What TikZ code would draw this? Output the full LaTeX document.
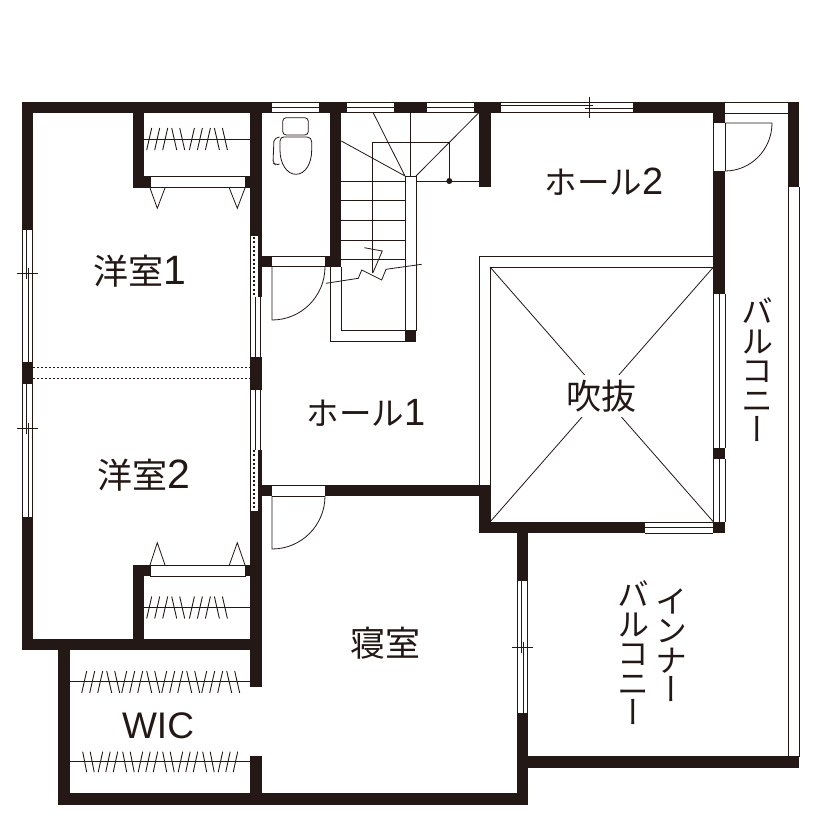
\documentclass[tikz,border=0pt]{standalone}
\usepackage{fontspec}
\setmainfont{Liberation Sans}
\newfontfamily\jp{Noto Sans CJK JP}
\newfontfamily\vjp[RawFeature=+vert]{Noto Sans CJK JP}
\definecolor{ink}{HTML}{231815}
\newcommand{\wl}[4]{\fill[ink] (#1,#2) rectangle (#3,#4);}
\newcommand{\vwin}[4]{\fill[white] (#1,#2) rectangle (#3,#4);\draw[thin line] (#1,#2) -- (#1,#4) (#3,#2) -- (#3,#4);
  \pgfmathsetmacro{\xm}{(#1+#3)/2}\draw[thin line] (\xm,#2) -- (\xm,#4);}
\newcommand{\hwin}[4]{\fill[white] (#1,#2) rectangle (#3,#4);\draw[thin line] (#1,#2) -- (#3,#2) (#1,#4) -- (#3,#4);
  \pgfmathsetmacro{\ym}{(#2+#4)/2}\draw[thin line] (#1,\ym) -- (#3,\ym);}
\newcommand{\vslide}[5]{\fill[white] (#1,#2) rectangle (#3,#4);\draw[thin line] (#1,#2) -- (#1,#4) (#3,#2) -- (#3,#4);
  \pgfmathsetmacro{\xm}{(#1+#3)/2}\pgfmathsetmacro{\xa}{\xm-1.2}\pgfmathsetmacro{\xb}{\xm+1.2}
  \pgfmathsetmacro{\ta}{#1-5}\pgfmathsetmacro{\tb}{#3+5}\pgfmathsetmacro{\ua}{#5-5.5}\pgfmathsetmacro{\ub}{#5+5.5}
  \draw[thin line] (\xa,#2) -- (\xa,\ub) (\xb,\ua) -- (\xb,#4) (\ta,#5) -- (\tb,#5);}
\newcommand{\hatchset}[4]{%
  \foreach \g in {0,...,#1}{
    \foreach \o in {0,8,16}{\draw[rod line] ({#2+\g*#3+\o},#4+22) -- ({#2+\g*#3+\o+5},#4);}
    \foreach \o in {25,33}{\draw[rod line] ({#2+\g*#3+\o+5},#4+22) -- ({#2+\g*#3+\o},#4);}
  }}
\newcommand{\hatchlow}[4]{%
  \foreach \g in {0,...,#1}{
    \foreach \o in {0,7.5}{\draw[rod line] ({#2+\g*#3+\o},#4) -- ({#2+\g*#3+\o+4},#4+20.5);}
    \foreach \o in {15.5,23,30.5}{\draw[rod line] ({#2+\g*#3+\o},#4+20.5) -- ({#2+\g*#3+\o+4.5},#4);}
  }}
\newcommand{\dg}[2]{{\fontsize{#1}{#1}\selectfont\rmfamily #2}}
\tikzset{
  thin line/.style={draw=ink,line width=0.8pt},
  rod line/.style={draw=ink,line width=0.9pt},
  pocket/.style={draw=ink,line width=2pt,dash pattern=on 2pt off 2.3pt},
  label jp/.style={text=ink,inner sep=0pt,anchor=base,font=\jp\fontsize{32.5}{33}\selectfont},
  label kanji/.style={text=ink,inner sep=0pt,anchor=base,font=\jp\fontsize{35}{35}\selectfont},
  label vert/.style={text=ink,inner sep=0pt,align=center,font=\vjp\fontsize{32}{29.5}\selectfont},
}
\begin{document}
\begin{tikzpicture}[x=1pt,y=-1pt]
\useasboundingbox (0,0) rectangle (840,840);
\fill[white] (0,0) rectangle (840,840);
% thin void frame and diagonals
\draw[thin line] (479,485) -- (479,256) -- (713.5,256);
\draw[thin line] (490,522) -- (490,267) -- (713.5,267);
\draw[thin line] (490,267) -- (713.5,522) (713.5,267) -- (490,522);
% balcony thin lines
\draw[thin line] (725,102) -- (788,102) (725,113) -- (788,113);
\draw[thin line] (788,113) -- (788,757) (799,187) -- (799,757);
% stairs
\draw[thin line] (330,267) -- (330,341.7) -- (405,341.7);
\draw[thin line] (341.3,267) -- (341.3,330.7) -- (405,330.7);
\foreach \y in {181,200.7,220.7,240,259.3}{\draw[thin line] (341.3,\y) -- (405,\y);}
\draw[thin line] (416,181) -- (479,181);
\draw[thin line] (372.8,273) -- (372.8,142.7) -- (449.3,142.7) -- (449.3,181);
\fill[ink] (449.3,181) circle (3);
\draw[thin line] (405,176) -- (341.3,141) (405,176) -- (373.3,113) (410.5,113) -- (410.5,176) (416,176) -- (478.5,113);
\draw[thin line] (405,176) rectangle (416,330.7);
\draw[thin line] (326,283.3) -- (358.3,278.3) -- (361.7,270) -- (381.7,280) -- (386,269.3) -- (421.7,264.3);
\draw[thin line] (364.3,247.7) -- (382.3,251) -- (372.8,273);
\wl{405}{330.7}{416}{341.7}
% outer and inner walls
\wl{21.7}{101.7}{271.7}{113}
\wl{319.3}{101.7}{346.7}{113}
\wl{393.7}{101.7}{426.7}{113}
\wl{474}{101.7}{501}{113}
\wl{633}{101.7}{725}{113}
\wl{21.7}{101.7}{32.7}{230}
\wl{21.7}{362.3}{32.7}{384.3}
\wl{21.7}{516.7}{32.7}{650}
\wl{21.7}{639.3}{261.7}{650}
\wl{58.3}{639.3}{70.3}{805}
\wl{58.3}{793.3}{528}{805}
\wl{133}{101.7}{144}{187.6}
\wl{133}{176}{150}{187.6}
\wl{245}{176}{250}{187.6}
\wl{133}{565}{144}{650}
\wl{133}{565}{150}{576}
\wl{245}{565}{250}{576}
\wl{250}{101.7}{261.7}{235.7}
\wl{257.5}{235.7}{261.7}{296.7}
\wl{250}{356.7}{261.7}{390}
\wl{257.5}{450}{261.7}{511}
\wl{250}{511}{261.7}{687}
\wl{250}{756}{261.7}{805}
\wl{330}{101.7}{341.3}{266.7}
\wl{261.7}{255.7}{272}{266.7}
\wl{325}{255.7}{341.3}{266.7}
\wl{261.7}{485}{272}{496}
\wl{325}{485}{490}{496}
\wl{479}{101.7}{490.7}{187.3}
\wl{479}{485}{490}{533.3}
\wl{479}{521.7}{645}{533.3}
\wl{713.3}{521.7}{725}{533.3}
\wl{713.3}{101.7}{725}{123}
\wl{713.3}{171}{725}{294}
\wl{713.3}{448}{725}{459}
\wl{787.7}{101.7}{799.3}{186.7}
\wl{516.7}{533}{528}{580.7}
\wl{516.7}{713}{528}{805}
\wl{528}{756}{799.3}{767.7}
% closet panes
\draw[thin line] (150,176.5) rectangle (245,187.3);
\draw[thin line] (150,565.3) rectangle (245,576);
% door thresholds
\draw[thin line] (272,256) -- (325,256) (272,266.7) -- (325,266.7);
\draw[thin line] (272,485.3) -- (325,485.3) (272,496) -- (325,496);
\draw[thin line] (713.5,123) -- (713.5,171) (725,123) -- (725,171);
% windows
\hwin{271.7}{102}{319.3}{112.7}
\hwin{346.7}{102}{393.7}{112.7}
\hwin{426.7}{102}{474}{112.7}
\hwin{645}{522}{713.3}{533}
\vslide{22}{230}{32.5}{362.3}{273}
\vslide{22}{384.3}{32.5}{516.7}{428}
\vslide{517}{580.7}{527.7}{713}{647}
\vwin{250.7}{296.7}{260.7}{356.7}
\vwin{250.7}{390}{260.7}{450}
\vwin{713.5}{294}{725}{448}
\vwin{713.5}{459}{725}{521.7}
% top sliding window
\fill[white] (501,102) rectangle (633,112.7);
\draw[thin line] (501,102) -- (633,102) (501,112.7) -- (633,112.7) (501,105) -- (593.3,105) (585,108.3) -- (633,108.3) (589,97) -- (589,118);
% pocket doors
\draw[thin line] (250.7,235.7) -- (250.7,296.7) (250.7,450) -- (250.7,511);
\draw[pocket] (254.3,237) -- (254.3,296.7);
\draw[pocket] (254.3,450) -- (254.3,510);
% room divide dotted
\draw[line width=0.9pt,draw=ink,dash pattern=on 2.2pt off 1.8pt] (33,367.5) -- (250,367.5) (33,378.5) -- (250,378.5);
% door leaves
\draw[thin line] (272,266.7) -- (272,320) .. controls (301.3,320) and (325,296.3) .. (325,266.7);
\draw[thin line] (272,496) -- (272,549) .. controls (301.3,549) and (325,525.3) .. (325,496);
\draw[thin line] (725,171) .. controls (751,171) and (772,149.5) .. (772,123) -- (725,123);
% closet doors triangles
\draw[thin line] (150,188) -- (157.3,208.3) -- (165,188);
\draw[thin line] (229.3,188) -- (237.3,208.3) -- (245,188);
\draw[thin line] (150,565) -- (157.3,542.7) -- (165,565);
\draw[thin line] (229.3,565) -- (237.3,542.7) -- (245,565);
% toilet
\draw[thin line,rounded corners=3.5pt] (282.7,117.7) rectangle (308.3,135);
\draw[thin line] (280,141) .. controls (280,138) and (282,137) .. (284,137) -- (307,137) .. controls (310,137) and (311.7,139) .. (311.7,142) -- (311.7,150) .. controls (311.7,164) and (305,174.3) .. (296,174.3) .. controls (287,174.3) and (280,164) .. (280,150) -- cycle;
\draw[thin line,rounded corners=2pt] (279.5,137) -- (274,139) -- (273,163) -- (276,165) -- (279.5,164);
% closet rods
\draw[thin line] (144,139) -- (250,139) (144,607.3) -- (250,607.3);
\draw[thin line] (70.3,681.7) -- (250,681.7) (70.3,761.7) -- (250,761.7);
% hatches
\hatchset{1}{146.7}{42.7}{128}
\hatchset{1}{146.7}{42.7}{596.5}
\hatchset{3}{81.7}{40}{671}
\hatchlow{3}{82.7}{40}{751.7}
% labels
\node[label kanji] (room1) at (140,284) {洋室\dg{41}{1}};
\node[label kanji] (room2) at (144,488.5) {洋室\dg{41}{2}};
\node[label kanji] (bed) at (385,656.5) {寝室};
\node[label jp] (hall1) at (366,425.5) {ホール\dg{38}{1}};
\node[label jp] (hall2) at (604,194.5) {ホール\dg{38}{2}};
\node[label kanji,fill=white,inner xsep=3pt,inner ysep=5pt] (void) at (601,409) {吹抜};
\node[text=ink,inner sep=0pt,font=\fontsize{37}{37}\selectfont] (wic) at (158,726) {WIC};
\node[label vert] (balc) at (757,370) {バ\\ル\\コ\\ニ\\ー};
\node[label vert] (inner1) at (671.7,645) {イ\\ン\\ナ\\ー};
\node[label vert] (inner2) at (633,653) {バ\\ル\\コ\\ニ\\ー};
\end{tikzpicture}
\end{document}
